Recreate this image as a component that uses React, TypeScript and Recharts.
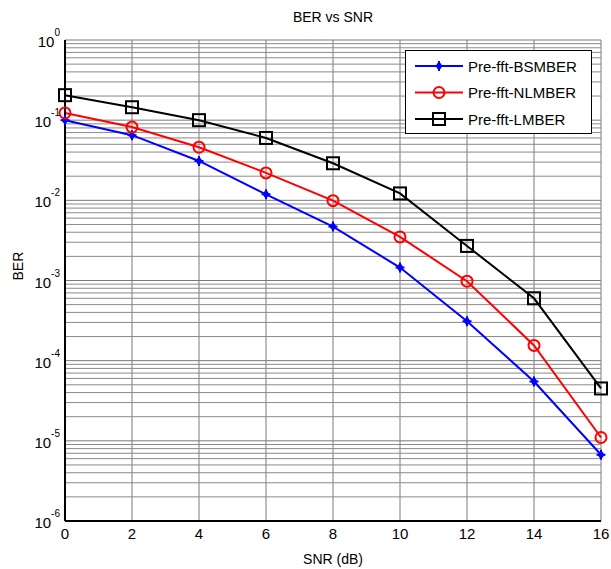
import React from 'react';
import {
  LineChart,
  Line,
  XAxis,
  YAxis,
  CartesianGrid,
  ReferenceLine,
  Legend,
} from 'recharts';

const snr = [0, 2, 4, 6, 8, 10, 12, 14, 16];
const bsmber = [0.1, 0.065, 0.031, 0.0119, 0.0047, 0.00145, 0.00031, 5.5e-5, 6.7e-6];
const nlmber = [0.123, 0.082, 0.046, 0.022, 0.0099, 0.0035, 0.00098, 1.55e-4, 1.1e-5];
const lmber = [0.205, 0.145, 0.1, 0.06, 0.029, 0.0122, 0.0027, 0.0006, 4.5e-5];

const xTicks = [0, 2, 4, 6, 8, 10, 12, 14, 16];
const yTicks = [1e-6, 1e-5, 1e-4, 1e-3, 1e-2, 1e-1, 1];
const yExponents = [-6, -5, -4, -3, -2, -1, 0];

const seriesInfo = [
  { key: 'bsmber', name: 'Pre-fft-BSMBER', color: '#0000ff', marker: 'star' },
  { key: 'nlmber', name: 'Pre-fft-NLMBER', color: '#ff0000', marker: 'circle' },
  { key: 'lmber', name: 'Pre-fft-LMBER', color: '#000000', marker: 'square' },
];

const data = snr.map((s, i) => ({
  snr: s,
  bsmber: bsmber[i],
  nlmber: nlmber[i],
  lmber: lmber[i],
}));

// minor log gridlines: 2..9 in each decade
const minorLines: number[] = [];
yExponents.slice(0, -1).forEach((e) => {
  for (let m = 2; m <= 9; m++) minorLines.push(m * Math.pow(10, e));
});

const FONT = '"Liberation Sans", Arial, sans-serif';

const Marker = ({ kind, x, y, color }: { kind: string; x: number; y: number; color: string }) => {
  if (kind === 'circle') {
    return <circle cx={x} cy={y} r={5.5} fill="none" stroke={color} strokeWidth={2} />;
  }
  if (kind === 'square') {
    return <rect x={x - 6} y={y - 6} width={12} height={12} fill="none" stroke={color} strokeWidth={2} />;
  }
  return (
    <g>
      <path d={`M${x},${y - 5} L${x + 3.5},${y} L${x},${y + 5} L${x - 3.5},${y} Z`} fill={color} />
      <line x1={x - 4.5} y1={y} x2={x + 4.5} y2={y} stroke={color} strokeWidth={2} />
      <line x1={x} y1={y - 5} x2={x} y2={y + 5} stroke={color} strokeWidth={2} />
    </g>
  );
};

const makeDot = (kind: string, color: string) => (props: any) => {
  const { cx, cy, index } = props;
  if (cx == null || cy == null) return <g key={index} />;
  return <Marker key={index} kind={kind} x={cx} y={cy} color={color} />;
};

const YTick = (props: any) => {
  const { x, y, payload } = props;
  const exp = Math.round(Math.log10(payload.value));
  return (
    <text x={x} y={y} textAnchor="end" fontFamily={FONT} fill="#000">
      <tspan fontSize={15} dy={7}>10</tspan>
      <tspan fontSize={10} dy={-11}>{exp}</tspan>
    </text>
  );
};

const LegendBox = () => (
  <svg width={188} height={85} style={{ display: 'block' }}>
    <rect x={0.5} y={0.5} width={186} height={83} fill="#fff" stroke="#000" strokeWidth={1} />
    {seriesInfo.map((s, i) => {
      const cy = 16 + i * 26.5;
      return (
        <g key={s.key}>
          <line x1={10} y1={cy} x2={58} y2={cy} stroke={s.color} strokeWidth={2} />
          <Marker kind={s.marker} x={34} y={cy} color={s.color} />
          <text x={63} y={cy + 5.5} fontSize={15} fontFamily={FONT} fill="#000">
            {s.name}
          </text>
        </g>
      );
    })}
  </svg>
);

export default function App() {
  return (
    <div style={{ position: 'absolute', left: 0, top: 0, background: '#fff' }}>
      <LineChart
        width={611}
        height={569}
        data={data}
        margin={{ top: 40, right: 10, bottom: 0, left: 5 }}
      >
        <text x={333} y={22} textAnchor="middle" fontSize={14} fontFamily={FONT} fill="#000">
          BER vs SNR
        </text>
        <CartesianGrid stroke="#7a7a7a" strokeWidth={1} />
        {minorLines.map((v) => (
          <ReferenceLine key={v} y={v} stroke="#8a8a8a" strokeWidth={1} ifOverflow="hidden" />
        ))}
        <XAxis
          dataKey="snr"
          type="number"
          domain={[0, 16]}
          ticks={xTicks}
          height={48}
          tickSize={0}
          tickMargin={7}
          axisLine={{ stroke: '#000', strokeWidth: 2 }}
          tick={{ fontSize: 15, fontFamily: FONT, fill: '#000' }}
          label={{ value: 'SNR (dB)', position: 'insideBottom', offset: 5, fontSize: 14, fontFamily: FONT, fill: '#000' }}
        />
        <XAxis
          xAxisId="top"
          dataKey="snr"
          type="number"
          domain={[0, 16]}
          orientation="top"
          height={0}
          tick={false}
          tickLine={false}
          axisLine={{ stroke: '#000', strokeWidth: 2 }}
        />
        <YAxis
          scale="log"
          domain={[1e-6, 1]}
          ticks={yTicks}
          allowDataOverflow
          width={60}
          tickSize={0}
          tickMargin={5}
          axisLine={{ stroke: '#000', strokeWidth: 2 }}
          tick={<YTick />}
          label={{ value: 'BER', angle: -90, position: 'insideLeft', offset: 13, fontSize: 14, fontFamily: FONT, fill: '#000' }}
        />
        <YAxis
          yAxisId="right"
          orientation="right"
          scale="log"
          domain={[1e-6, 1]}
          width={0}
          tick={false}
          tickLine={false}
          axisLine={{ stroke: '#000', strokeWidth: 2 }}
        />
        {seriesInfo.map((s) => (
          <Line
            key={s.key}
            dataKey={s.key}
            name={s.name}
            type="linear"
            stroke={s.color}
            strokeWidth={2}
            dot={makeDot(s.marker, s.color)}
            activeDot={false}
            isAnimationActive={false}
          />
        ))}
        <Legend
          content={<LegendBox />}
          layout="horizontal"
          verticalAlign="middle"
          align="center"
          wrapperStyle={{ left: 405, top: 50, width: 188 }}
        />
      </LineChart>
    </div>
  );
}
